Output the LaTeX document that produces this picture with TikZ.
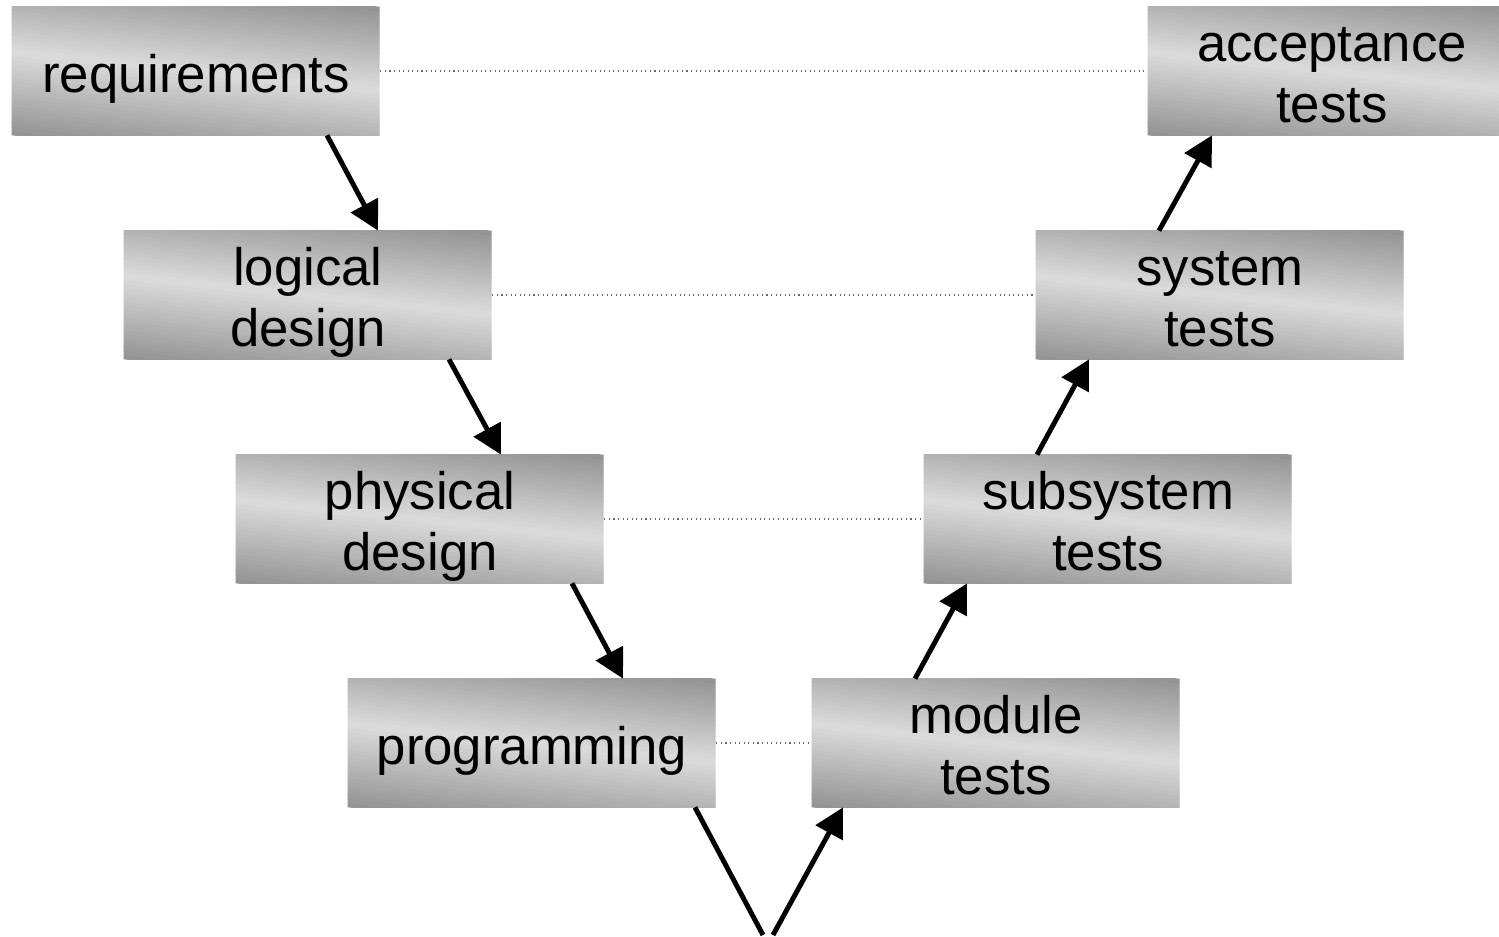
\documentclass[tikz,border=0pt]{standalone}
\usepackage{fontspec}
\setmainfont{Liberation Sans}
\usetikzlibrary{arrows.meta,backgrounds}
% grey gradient behind a box: dark at top and bottom, light band slightly tilted through the middle
\newcommand{\phaseshade}[1]{%
  \begin{scope}[on background layer]
  \begin{scope}
    \clip (#1.south west) rectangle (#1.north east);
    \begin{scope}[shift={(#1.south west)},x=7.36cm,y=2.56cm]
      \foreach \k in {0,...,39}{%
        \pgfmathsetmacro\sa{-0.15+1.3*\k/40}\pgfmathsetmacro\sb{-0.15+1.3*(\k+1)/40+0.005}%
        \pgfmathsetmacro\sc{14+22*abs(2*(-0.15+1.3*(\k+0.5)/40)-1)}%
        \fill[black!\sc] (0,\sa+0.15) -- (1,\sa-0.15) -- (1,\sb-0.15) -- (0,\sb+0.15) -- cycle;}
    \end{scope}
  \end{scope}
  \end{scope}}
\tikzset{
  phase/.style={inner sep=0pt,minimum width=7.36cm,minimum height=2.56cm,align=center,
    font=\fontsize{30}{35}\selectfont,
    execute at begin node={\rule{0pt}{30.5pt}},execute at end node={\rule[-6.5pt]{0pt}{6.5pt}}},
  twoline/.style={phase,execute at begin node={\rule{0pt}{65.5pt}}},
  flow/.style={-{Triangle[length=0.58cm,width=0.6cm]},line width=2.8pt,draw=black},
  leg/.style={line width=2.8pt,draw=black},
  link/.style={dotted,line width=0.6pt,draw=black!60}
}
\begin{document}
\begin{tikzpicture}[x=1cm,y=1cm]
\clip (0,0) rectangle (29.98,-18.74);
% Design side
\node[phase] (req) at (3.92,-1.42) {requirements};
\node[twoline] (log) at (6.16,-5.90) {logical\\design};
\node[twoline] (phys) at (8.40,-10.38) {physical\\design};
\node[phase] (prog) at (10.64,-14.86) {programming};
% Test side
\node[twoline] (mod) at (19.92,-14.86) {module\\tests};
\node[twoline] (sub) at (22.16,-10.38) {subsystem\\tests};
\node[twoline] (sys) at (24.40,-5.90) {system\\tests};
\node[twoline] (acc) at (26.64,-1.42) {acceptance\\tests};
\coordinate (vl) at (15.26,-18.70);
\coordinate (vr) at (15.46,-18.70);
\foreach \n in {req,log,phys,prog,mod,sub,sys,acc}{\phaseshade{\n}}

% Correspondences
\draw[link] (req.east) -- (acc.west);
\draw[link] (log.east) -- (sys.west);
\draw[link] (phys.east) -- (sub.west);
\draw[link] (prog.east) -- (mod.west);

\draw[flow] ([xshift=2.62cm]req.south) -- ([xshift=1.40cm]log.north);
\draw[flow] ([xshift=2.82cm]log.south) -- ([xshift=1.62cm]phys.north);
\draw[flow] ([xshift=3.04cm]phys.south) -- ([xshift=1.82cm]prog.north);
\draw[leg] ([xshift=3.26cm]prog.south) -- (vl);
\draw[flow] (vr) -- ([xshift=-3.06cm]mod.south);
\draw[flow] ([xshift=-1.62cm]mod.north) -- ([xshift=-2.82cm]sub.south);
\draw[flow] ([xshift=-1.42cm]sub.north) -- ([xshift=-2.62cm]sys.south);
\draw[flow] ([xshift=-1.22cm]sys.north) -- ([xshift=-2.40cm]acc.south);
\end{tikzpicture}
\end{document}
